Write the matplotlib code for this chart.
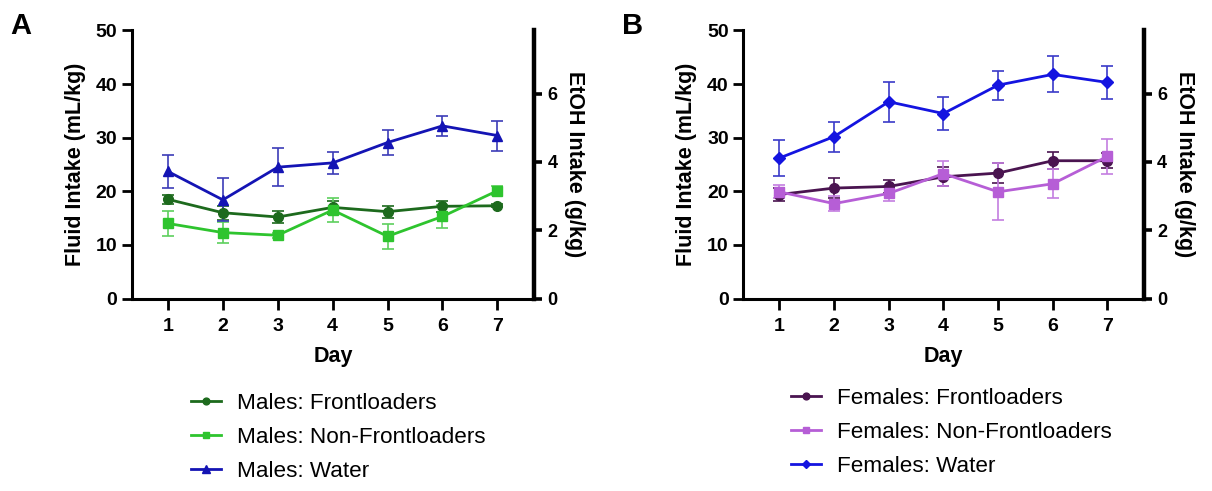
import numpy as np
import matplotlib
matplotlib.use('Agg')
import matplotlib.pyplot as plt
from matplotlib.lines import Line2D

plt.rcParams['font.family'] = ['Liberation Sans', 'DejaVu Sans']

days = [1, 2, 3, 4, 5, 6, 7]

# Panel A - males (fluid intake, mL/kg), mean and SEM
m_front = [18.5, 16.0, 15.2, 17.0, 16.2, 17.2, 17.3]
m_front_err = [0.8, 1.3, 1.2, 1.2, 1.1, 1.0, 0.3]
m_nonfront = [14.0, 12.3, 11.8, 16.5, 11.6, 15.3, 20.1]
m_nonfront_err = [2.35, 1.9, 0.5, 2.2, 2.3, 2.1, 0.8]
m_water = [23.7, 18.4, 24.5, 25.3, 29.1, 32.2, 30.4]
m_water_err = [3.1, 4.0, 3.5, 2.0, 2.3, 1.8, 2.8]

# Panel B - females
f_front = [19.4, 20.6, 20.9, 22.7, 23.4, 25.7, 25.7]
f_front_err = [1.2, 1.9, 1.2, 1.8, 1.9, 1.6, 1.4]
f_nonfront = [19.9, 17.7, 19.6, 23.3, 19.9, 21.4, 26.5]
f_nonfront_err = [1.2, 1.35, 1.4, 2.4, 5.3, 2.7, 3.2]
f_water = [26.2, 30.2, 36.7, 34.5, 39.8, 41.8, 40.3]
f_water_err = [3.35, 2.8, 3.75, 3.0, 2.7, 3.35, 3.15]

fig = plt.figure(figsize=(12.12, 4.91), dpi=100)


def panel(rect, series, letter, leg_anchor):
    ax = fig.add_axes(rect)
    ax2 = ax.twinx()
    handles = []
    for y, err, color, ecolor, marker, ms, label in series:
        ax.errorbar(days, y, yerr=err, color=color, ecolor=ecolor,
                    marker=marker, markersize=ms, linewidth=2.0,
                    elinewidth=1.2, capsize=4, capthick=1.2)
        handles.append(Line2D([], [], color=color, marker=marker,
                              markersize=ms * 0.7, linewidth=2.0, label=label))
    ax.set_xlim(0.34, 7.67)
    ax.set_ylim(0, 50)
    ax.set_yticks([0, 10, 20, 30, 40, 50])
    ax.set_xticks(days)
    ax2.set_ylim(0, 7.85)
    ax2.set_yticks([0, 2, 4, 6])

    ax.spines['top'].set_visible(False)
    ax.spines['right'].set_visible(False)
    ax2.spines['top'].set_visible(False)
    ax2.spines['left'].set_visible(False)
    ax2.spines['bottom'].set_visible(False)
    ax.spines['left'].set_linewidth(2.2)
    ax.spines['bottom'].set_linewidth(2.2)
    ax2.spines['right'].set_linewidth(3.2)

    ax.tick_params(axis='y', length=7, width=2, pad=3.5, labelsize=14)
    ax.tick_params(axis='x', length=8, width=2, pad=6, labelsize=14)
    ax2.tick_params(axis='y', length=5.5, width=2.6, pad=4, labelsize=13)
    for lab in ax.get_xticklabels() + ax.get_yticklabels() + ax2.get_yticklabels():
        lab.set_fontweight('bold')

    ax.set_ylabel('Fluid Intake (mL/kg)', fontsize=15.5, fontweight='bold', labelpad=7)
    ax.set_xlabel('Day', fontsize=15.5, fontweight='bold', labelpad=8)
    ax2.set_ylabel('EtOH Intake (g/kg)', fontsize=15.5, fontweight='bold',
                   rotation=270, labelpad=20)

    fig.text(rect[0] - 0.1, 0.975, letter, fontsize=21, fontweight='bold',
             va='top', ha='left')

    fig.legend(handles=handles, loc='upper left', bbox_to_anchor=leg_anchor,
               frameon=False, fontsize=16.2, handlelength=1.3,
               handletextpad=0.72, labelspacing=0.58, borderpad=0,
               borderaxespad=0)
    return ax, ax2


panel([0.1087, 0.392, 0.332, 0.546],
      [(m_front, m_front_err, '#1d6a1d', '#1d6a1d', 'o', 7, 'Males: Frontloaders'),
       (m_nonfront, m_nonfront_err, '#2ec42e', '#5dd05d', 's', 7, 'Males: Non-Frontloaders'),
       (m_water, m_water_err, '#1414b4', '#3c3cb8', '^', 7.5, 'Males: Water')],
      'A', (0.158, 0.2))

panel([0.6133, 0.392, 0.3306, 0.546],
      [(f_front, f_front_err, '#4a1450', '#4a1450', 'o', 7, 'Females: Frontloaders'),
       (f_nonfront, f_nonfront_err, '#b65ed6', '#c47ee0', 's', 7, 'Females: Non-Frontloaders'),
       (f_water, f_water_err, '#1414e0', '#3a3ac8', 'D', 6, 'Females: Water')],
      'B', (0.653, 0.21))

fig.savefig('out.png', dpi=100)
